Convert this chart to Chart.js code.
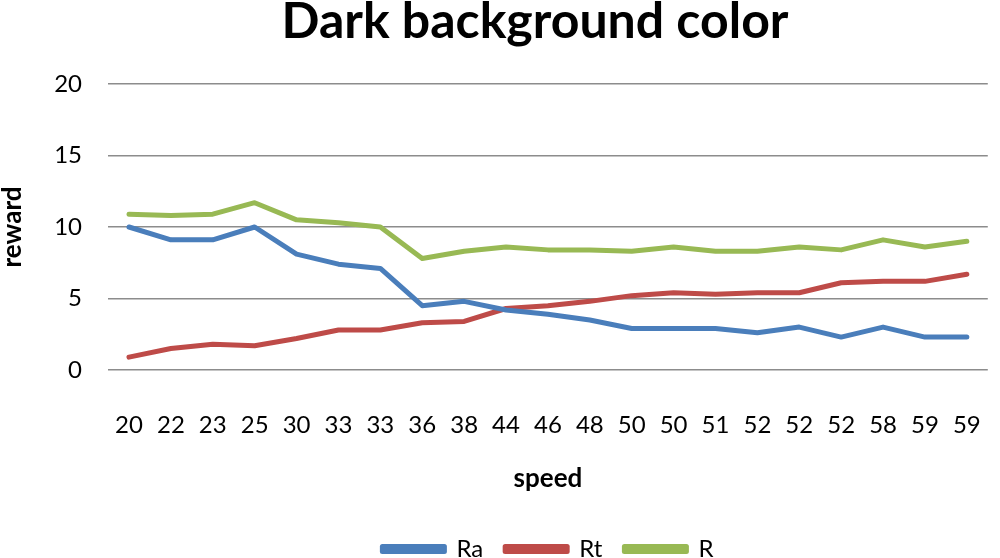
<!DOCTYPE html>
<html>
<head>
<meta charset="utf-8">
<script src="https://cdn.jsdelivr.net/npm/chart.js@4"></script>
<style>
  html, body { margin: 0; padding: 0; background: #fff; overflow: hidden; }
  #wrap { position: relative; left: -3px; width: 1025px; height: 571px; }
</style>
</head>
<body>
<div id="wrap"><canvas id="myChart"></canvas></div>
<script>
// x categories (speed)
const speedLabels = ["20", "22", "23", "25", "30", "33", "33", "36", "38", "44", "46",
  "48", "50", "50", "51", "52", "52", "52", "58", "59", "59"];

// series values
const raData = [10.0, 9.1, 9.1, 10.0, 8.1, 7.4, 7.1, 4.5, 4.8, 4.2, 3.9,
  3.5, 2.9, 2.9, 2.9, 2.6, 3.0, 2.3, 3.0, 2.3, 2.3];
const rtData = [0.9, 1.5, 1.8, 1.7, 2.2, 2.8, 2.8, 3.3, 3.4, 4.3, 4.5,
  4.8, 5.2, 5.4, 5.3, 5.4, 5.4, 6.1, 6.2, 6.2, 6.7];
const rData = [10.9, 10.8, 10.9, 11.7, 10.5, 10.3, 10.0, 7.8, 8.3, 8.6, 8.4,
  8.4, 8.3, 8.6, 8.3, 8.3, 8.6, 8.4, 9.1, 8.6, 9.0];

const yTicks = [0, 5, 10, 15, 20];

const FONT = "Lato, 'Open Sans', sans-serif";

const makeSet = (label, data, color) => ({
  label: label,
  data: data,
  borderColor: color,
  backgroundColor: color,
  borderWidth: 5,
  pointRadius: 0,
  tension: 0,
  fill: false,
  borderCapStyle: "round",
  borderJoinStyle: "round",
});

// title drawn by hand so it can sit where the original puts it
const titlePlugin = {
  id: "titleText",
  afterDraw(chart) {
    const ctx = chart.ctx;
    ctx.save();
    ctx.font = "bold 50px " + FONT;
    ctx.fillStyle = "#000";
    ctx.textAlign = "center";
    ctx.textBaseline = "middle";
    ctx.fillText("Dark background color", 538, 22);
    ctx.restore();
  },
};

const lineChart = document.getElementById("myChart");
const myChart = new Chart(lineChart, {
  type: "line",
  data: {
    labels: speedLabels,
    datasets: [
      makeSet("Ra", raData, "#4A7EBB"),
      makeSet("Rt", rtData, "#BE4B48"),
      makeSet("R", rData, "#98B954"),
    ],
  },
  options: {
    responsive: true,
    maintainAspectRatio: false,
    animation: false,
    layout: { padding: { top: 84, right: 10, left: 0, bottom: 0 } },
    scales: {
      x: {
        offset: true,
        grid: { display: false, drawTicks: false },
        border: { display: false },
        ticks: {
          color: "#000",
          font: { family: FONT, size: 24 },
          padding: 41,
          maxRotation: 0,
          autoSkip: false,
        },
        title: {
          display: true,
          text: "speed",
          color: "#000",
          font: { family: FONT, size: 26, weight: "bold" },
          padding: { top: -18, bottom: 21 },
        },
      },
      y: {
        min: 0,
        max: 20,
        afterBuildTicks: (axis) => {
          axis.ticks = yTicks.map((v) => ({ value: v }));
        },
        grid: { color: "#8C8C8C", lineWidth: 1.5, drawTicks: false },
        border: { display: false },
        ticks: {
          color: "#000",
          font: { family: FONT, size: 24 },
          padding: 26,
        },
        title: {
          display: true,
          text: "reward",
          color: "#000",
          font: { family: FONT, size: 26, weight: "bold" },
          padding: { top: 0, bottom: 0 },
        },
      },
    },
    plugins: {
      title: { display: false },
      tooltip: { enabled: false },
      legend: {
        position: "bottom",
        fullSize: false,
        labels: {
          color: "#000",
          font: { family: FONT, size: 24 },
          boxWidth: 62,
          boxHeight: 5,
          padding: 22,
        },
      },
    },
  },
  plugins: [titlePlugin],
});
</script>
</body>
</html>
